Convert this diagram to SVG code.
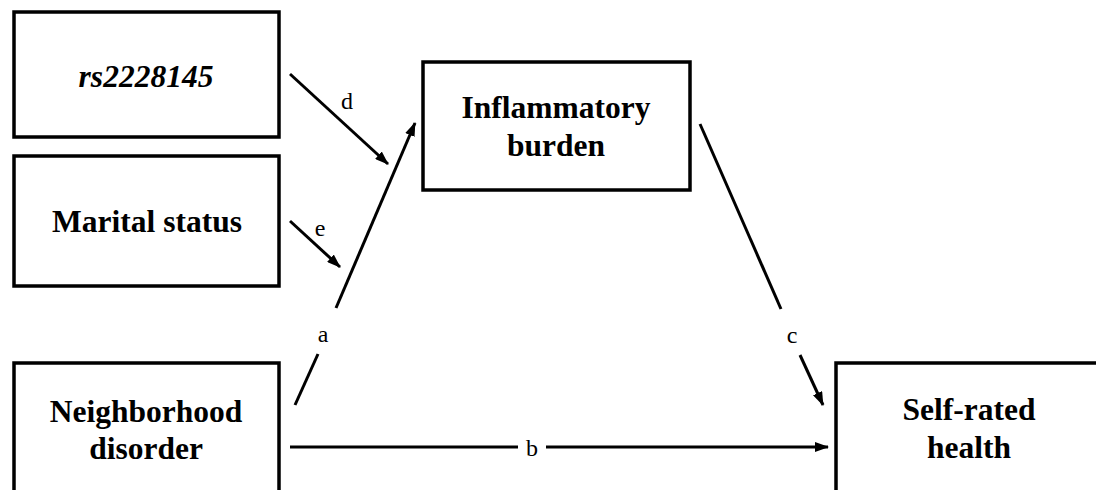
<svg xmlns="http://www.w3.org/2000/svg" width="1096" height="490" viewBox="0 0 1096 490">
<defs>
<marker id="ah" markerWidth="14" markerHeight="10" refX="13" refY="5" orient="auto" markerUnits="userSpaceOnUse">
<path d="M0,0 L14,5 L0,10 Z" fill="#000"/>
</marker>
<style>
.box{fill:#fff;stroke:#000;stroke-width:3.5}
.t{font-family:"Liberation Serif","Times New Roman",serif;font-weight:bold;font-size:31.5px;text-anchor:middle;fill:#000}
.it{font-style:italic}
.lbl{font-family:"Liberation Serif","Times New Roman",serif;font-size:24px;text-anchor:middle;fill:#000}
.ln{stroke:#000;stroke-width:3;fill:none}
</style>
</defs>
<rect width="1096" height="490" fill="#fff"/>
<g id="rs2228145">
<rect class="box" x="14" y="12" width="265" height="125"/>
<text class="t it" x="146" y="87">rs2228145</text>
</g>
<g id="marital">
<rect class="box" x="14" y="156" width="265" height="130"/>
<text class="t" x="147" y="232">Marital status</text>
</g>
<g id="inflammatory">
<rect class="box" x="423" y="62" width="267" height="128"/>
<text class="t" x="556" y="118">Inflammatory</text>
<text class="t" x="556" y="156">burden</text>
</g>
<g id="neighborhood">
<rect class="box" x="14" y="363" width="265" height="140"/>
<text class="t" x="146" y="422">Neighborhood</text>
<text class="t" x="146" y="459">disorder</text>
</g>
<g id="selfrated">
<rect class="box" x="836" y="363" width="270" height="140"/>
<text class="t" x="969" y="420">Self-rated</text>
<text class="t" x="969" y="458">health</text>
</g>
<g id="connectors">
<line class="ln" x1="290" y1="74" x2="388" y2="164" marker-end="url(#ah)"/>
<line class="ln" x1="290" y1="221" x2="340" y2="267" marker-end="url(#ah)"/>
<line class="ln" x1="295" y1="405" x2="318" y2="354"/>
<line class="ln" x1="336" y1="308" x2="415" y2="123" marker-end="url(#ah)"/>
<line class="ln" x1="700" y1="124" x2="781" y2="309"/>
<line class="ln" x1="800" y1="355" x2="823" y2="405" marker-end="url(#ah)"/>
<line class="ln" x1="290" y1="447" x2="518" y2="447"/>
<line class="ln" x1="546" y1="447" x2="828" y2="447" marker-end="url(#ah)"/>
<text class="lbl" x="347" y="109">d</text>
<text class="lbl" x="320" y="236">e</text>
<text class="lbl" x="323" y="342">a</text>
<text class="lbl" x="792" y="343">c</text>
<text class="lbl" x="532" y="456">b</text>
</g>
</svg>
